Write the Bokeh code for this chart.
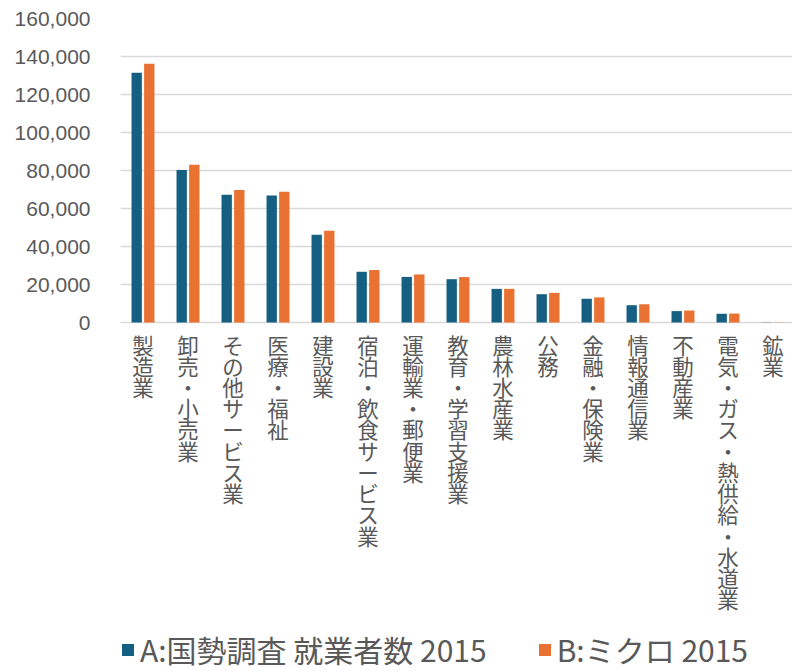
from bokeh.plotting import figure
from bokeh.models import (ColumnDataSource, FixedTicker, NumeralTickFormatter,
                          Legend, LegendItem, Range1d)
from bokeh.core.properties import value
from bokeh.embed import file_html
from bokeh.resources import INLINE

# ---- data ----
categories = ["製造業", "卸売・小売業", "その他サービス業", "医療・福祉", "建設業",
              "宿泊・飲食サービス業", "運輸業・郵便業", "教育・学習支援業", "農林水産業",
              "公務", "金融・保険業", "情報通信業", "不動産業",
              "電気・ガス・熱供給・水道業", "鉱業"]
series_a = [131400, 80200, 67200, 66800, 46200, 26700, 24000, 22800, 17700,
            14900, 12500, 9100, 6000, 4600, 100]
series_b = [136200, 83000, 69700, 68800, 48300, 27600, 25300, 23900, 17700,
            15600, 13200, 9600, 6300, 4700, 100]
series_names = ["A:国勢調査 就業者数 2015", "B:ミクロ 2015"]
y_ticks = [0, 20000, 40000, 60000, 80000, 100000, 120000, 140000, 160000]

COL_A = "#156082"
COL_B = "#E97132"
TXT = "#595959"
GRID = "#d9d9d9"
JP = "Noto Sans CJK JP"

idx = list(range(len(categories)))
src = ColumnDataSource(dict(
    x=idx, xa=[i - 0.14 for i in idx], xb=[i + 0.14 for i in idx],
    a=series_a, b=series_b, base=[0] * len(idx),
    lab=["\n".join(list(c)) for c in categories]))

W, H = 792, 671
left, top = 120, 18
frame_w = W - left
frame_h = H - top
px_per_cat = 45.0
x_end = frame_w / px_per_cat - 0.5
px_full = 304.0                       # pixels for 0..160000
y_start = -(frame_h - px_full) / px_full * 160000

p = figure(frame_width=frame_w, frame_height=frame_h, output_backend="svg",
           toolbar_location=None,
           x_range=Range1d(-0.5, x_end), y_range=Range1d(y_start, 160000),
           min_border_left=left, min_border_right=0, min_border_top=top,
           min_border_bottom=0)
p.outline_line_color = None
p.xaxis.visible = False

ra = p.vbar(x="xa", top="a", bottom="base", width=0.23, source=src,
            fill_color=COL_A, line_color=None)
rb = p.vbar(x="xb", top="b", bottom="base", width=0.23, source=src,
            fill_color=COL_B, line_color=None)

# vertical (stacked) category labels under the zero line
p.text(x="x", y="base", text="lab", source=src, y_offset=6,
       text_align="center", text_baseline="top",
       text_font=value(JP), text_font_size="21.5px",
       text_line_height=0.685, text_color=TXT)

# y axis
p.yaxis.ticker = FixedTicker(ticks=y_ticks)
p.yaxis.formatter = NumeralTickFormatter(format="0,0")
p.yaxis.axis_line_color = None
p.yaxis.major_tick_line_color = None
p.yaxis.minor_tick_line_color = None
p.yaxis.major_tick_out = 0
p.yaxis.major_label_standoff = 30
p.yaxis.major_label_text_font = "Liberation Sans"
p.yaxis.major_label_text_font_size = "21px"
p.yaxis.major_label_text_color = TXT

p.ygrid.ticker = FixedTicker(ticks=y_ticks)
p.ygrid.grid_line_color = GRID
p.ygrid.grid_line_width = 1.5
p.xgrid.grid_line_color = None

legend = Legend(items=[LegendItem(label=series_names[0], renderers=[ra]),
                       LegendItem(label=series_names[1], renderers=[rb])],
                orientation="horizontal", location=(0, 0),
                glyph_width=15, glyph_height=15, label_standoff=5, spacing=50,
                padding=0, margin=0, border_line_color=None,
                background_fill_alpha=0,
                label_text_font=JP, label_text_font_size="30px",
                label_text_color=TXT)
p.add_layout(legend)

open("out.html", "w").write(file_html(p, INLINE))
